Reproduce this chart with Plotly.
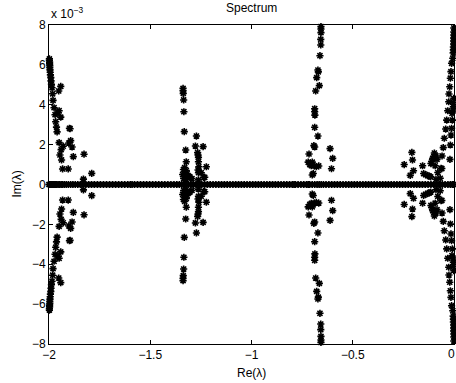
import plotly.graph_objects as go

# ---------------- data (imaginary parts in units of 1e-3) ----------------
# eigenvalues lying on (or extremely near) the real axis
real_axis_re = [-2.000, -1.997, -1.993, -1.990, -1.986, -1.982, -1.978, -1.973, -1.968, -1.962,
                -1.955, -1.948, -1.940, -1.932, -1.923, -1.914, -1.904, -1.893, -1.882, -1.870,
                -1.858, -1.845, -1.832, -1.818, -1.804, -1.790, -1.776, -1.761, -1.746, -1.731,
                -1.716, -1.701, -1.686, -1.671, -1.656, -1.641, -1.626, -1.611, -1.598, -1.590,
                -1.578, -1.563, -1.548, -1.533, -1.518, -1.503, -1.488, -1.473, -1.458, -1.443,
                -1.428, -1.413, -1.398, -1.383, -1.369, -1.356, -1.345, -1.336, -1.330, -1.322,
                -1.312, -1.300, -1.287, -1.274, -1.260, -1.246, -1.232, -1.218, -1.204, -1.190,
                -1.176, -1.162, -1.148, -1.134, -1.120, -1.106, -1.092, -1.078, -1.064, -1.050,
                -1.036, -1.022, -1.008, -0.994, -0.980, -0.966, -0.952, -0.938, -0.924, -0.910,
                -0.896, -0.882, -0.868, -0.854, -0.840, -0.826, -0.812, -0.798, -0.790, -0.784,
                -0.770, -0.756, -0.742, -0.728, -0.720, -0.714, -0.700, -0.688, -0.676, -0.666,
                -0.656, -0.645, -0.632, -0.618, -0.604, -0.590, -0.576, -0.562, -0.548, -0.534,
                -0.520, -0.506, -0.492, -0.478, -0.464, -0.450, -0.436, -0.422, -0.408, -0.394,
                -0.380, -0.366, -0.352, -0.338, -0.324, -0.310, -0.296, -0.282, -0.268, -0.254,
                -0.240, -0.226, -0.212, -0.198, -0.184, -0.170, -0.156, -0.142, -0.128, -0.114,
                -0.100, -0.086, -0.072, -0.058, -0.044, -0.030, -0.018, -0.008, -0.002]

# complex eigenvalues, upper half-plane (their conjugates are also eigenvalues)
cluster_a_re = [-1.998, -1.998, -1.997, -1.997, -1.996, -1.996, -1.995, -1.994, -1.993, -1.991,
                -1.990, -1.988, -1.985, -1.982, -1.980, -1.975, -1.970, -1.967, -1.963, -1.960,
                -1.950, -1.940, -1.930, -1.946, -1.938, -1.933, -1.905,
                -1.942, -1.952, -1.950, -1.956, -1.942, -1.896, -1.899, -1.893, -1.902, -1.886,
                -1.880, -1.827, -1.789, -1.830]
cluster_a_im = [6.30, 6.22, 6.14, 6.05, 5.96, 5.86, 5.75, 5.63, 5.50, 5.36,
                5.20, 5.03, 4.85, 4.55, 4.22, 3.85, 3.50, 3.15, 2.88, 2.64,
                2.10, 1.75, 1.92, 1.48, 1.23, 0.78, 0.78,
                4.92, 4.69, 3.70, 3.60, 3.38, 2.80, 2.82, 2.20, 2.08, 1.88,
                1.40, 1.52, 0.56, 0.27]

cluster_b_re = [-1.338, -1.338, -1.337, -1.335, -1.334, -1.332, -1.325, -1.322,
                -1.336, -1.330, -1.322, -1.318, -1.328, -1.340, -1.312, -1.305, -1.294, -1.335, -1.322,
                -1.272, -1.277, -1.239, -1.266, -1.264, -1.262, -1.262, -1.223, -1.260,
                -1.262, -1.236, -1.262, -1.248, -1.264, -1.231]
cluster_b_im = [4.82, 4.70, 4.57, 4.24, 3.65, 2.65, 1.73, 1.14,
                0.75, 0.85, 0.70, 0.55, 0.45, 0.50, 0.40, 0.39, 0.30, 0.30, 0.25,
                2.43, 1.93, 1.90, 1.60, 1.48, 1.36, 1.14, 0.89, 0.89,
                0.59, 0.36, 0.23, 0.59, 0.73, 0.36]

cluster_c_re = [-0.657, -0.657, -0.657, -0.658, -0.658, -0.662, -0.672, -0.670, -0.678, -0.665,
                -0.683, -0.688, -0.688, -0.687, -0.688, -0.672, -0.692, -0.688, -0.612, -0.599,
                -0.605, -0.716, -0.720, -0.712, -0.705, -0.700, -0.690, -0.680, -0.668, -0.700,
                -0.695]
cluster_c_im = [7.92, 7.80, 7.62, 7.28, 7.00, 6.46, 5.74, 5.65, 5.36, 4.96,
                4.69, 3.80, 3.65, 3.48, 2.87, 2.43, 1.95, 1.88, 1.80, 1.31,
                0.79, 1.53, 1.12, 1.00, 0.95, 1.12, 0.93, 0.90, 0.93, 0.48,
                0.55]

cluster_d_re = [-0.001, -0.001, -0.001, -0.002, -0.002, -0.002, -0.003, -0.003, -0.004, -0.006,
                -0.012, -0.015, -0.018, -0.021, -0.025, -0.026, -0.031, -0.036, -0.041, -0.048,
                -0.053, -0.059, -0.064,
                -0.001, -0.003, -0.003, -0.004, -0.010, -0.008, -0.012, -0.015, -0.018, -0.020,
                -0.208, -0.205, -0.246, -0.200, -0.216, -0.155, -0.150, -0.140, -0.130, -0.122,
                -0.115, -0.097, -0.089, -0.100, -0.105, -0.110, -0.114, -0.093, -0.084, -0.089,
                -0.068, -0.080, -0.060]
cluster_d_im = [7.85, 7.65, 7.50, 7.35, 7.20, 7.05, 6.90, 6.75, 6.60, 6.33,
                6.08, 5.66, 5.33, 4.90, 4.54, 4.15, 3.70, 3.23, 2.78, 2.32,
                1.85, 1.43, 0.81,
                4.32, 4.10, 3.90, 3.74, 3.57, 3.23, 2.82, 2.48, 1.98, 1.26,
                1.61, 1.23, 1.00, 0.69, 0.46, 0.94, 0.55, 0.50, 0.45, 0.42,
                0.38, 1.58, 1.43, 1.40, 1.31, 1.15, 1.05, 0.94, 1.26, 0.26,
                0.31, 0.60, 0.80]

x_ticks = [-2, -1.5, -1, -0.5, 0]
x_tick_text = ["\u22122", "\u22121.5", "\u22121", "\u22120.5", "0"]
y_ticks = [-8, -6, -4, -2, 0, 2, 4, 6, 8]
y_tick_text = ["\u22128", "\u22126", "\u22124", "\u22122", "0", "2", "4", "6", "8"]

# ---------------- build eigenvalue list (complex pairs + real) ----------------
up_re = cluster_a_re + cluster_b_re + cluster_c_re + cluster_d_re
up_im = cluster_a_im + cluster_b_im + cluster_c_im + cluster_d_im
all_re = real_axis_re + up_re + up_re
all_im = [0.0] * len(real_axis_re) + up_im + [-v for v in up_im]

FONT = "Liberation Sans, Arial, Helvetica, sans-serif"

fig = go.Figure()
fig.add_trace(go.Scatter(
    x=all_re, y=all_im, mode="markers",
    marker=dict(symbol="asterisk-open", size=6, color="black",
                line=dict(color="black", width=1.6)),
    cliponaxis=False, showlegend=False, hoverinfo="skip",
))

axis_common = dict(showgrid=False, zeroline=False, showline=True, linecolor="black",
                   linewidth=1, mirror="ticks", ticks="inside", ticklen=4,
                   tickcolor="black", tickwidth=1,
                   tickfont=dict(family=FONT, size=12, color="black"))

# the last x tick label ("0") sits at the page edge; draw it as an annotation,
# anchored on its right so it stays fully inside the page
x_axis_ticktext = x_tick_text[:-1] + [""]

annotations = [
    dict(text="Spectrum", x=0.5, y=1, xref="paper", yref="paper",
         xanchor="center", yanchor="middle", yshift=17, showarrow=False,
         font=dict(family=FONT, size=12, color="black")),
    dict(text="x 10<sup>\u22123</sup>", x=0, y=1, xref="paper", yref="paper",
         xanchor="left", yanchor="bottom", yshift=2, showarrow=False,
         font=dict(family=FONT, size=12, color="black")),
    dict(text="Re(\u03bb)", x=0.5, y=0, xref="paper", yref="paper",
         xanchor="center", yanchor="middle", yshift=-29, showarrow=False,
         font=dict(family=FONT, size=12, color="black")),
    dict(text="Im(\u03bb)", x=0, y=0.5, xref="paper", yref="paper",
         xanchor="center", yanchor="middle", xshift=-33, textangle=-90,
         showarrow=False, font=dict(family=FONT, size=12, color="black")),
    dict(text=x_tick_text[-1], x=x_ticks[-1], y=0, xref="x", yref="paper",
         xanchor="right", yanchor="middle", yshift=-10, xshift=2, showarrow=False,
         borderpad=0, font=dict(family=FONT, size=12, color="black")),
]

fig.update_layout(
    width=456, height=383,
    margin=dict(l=49, r=2, t=25, b=39),
    paper_bgcolor="white", plot_bgcolor="white",
    xaxis=dict(range=[-2, 0], tickvals=x_ticks, ticktext=x_axis_ticktext, **axis_common),
    yaxis=dict(range=[-8, 8], tickvals=y_ticks, ticktext=y_tick_text, **axis_common),
    annotations=annotations,
)

fig.write_html("out.html")
